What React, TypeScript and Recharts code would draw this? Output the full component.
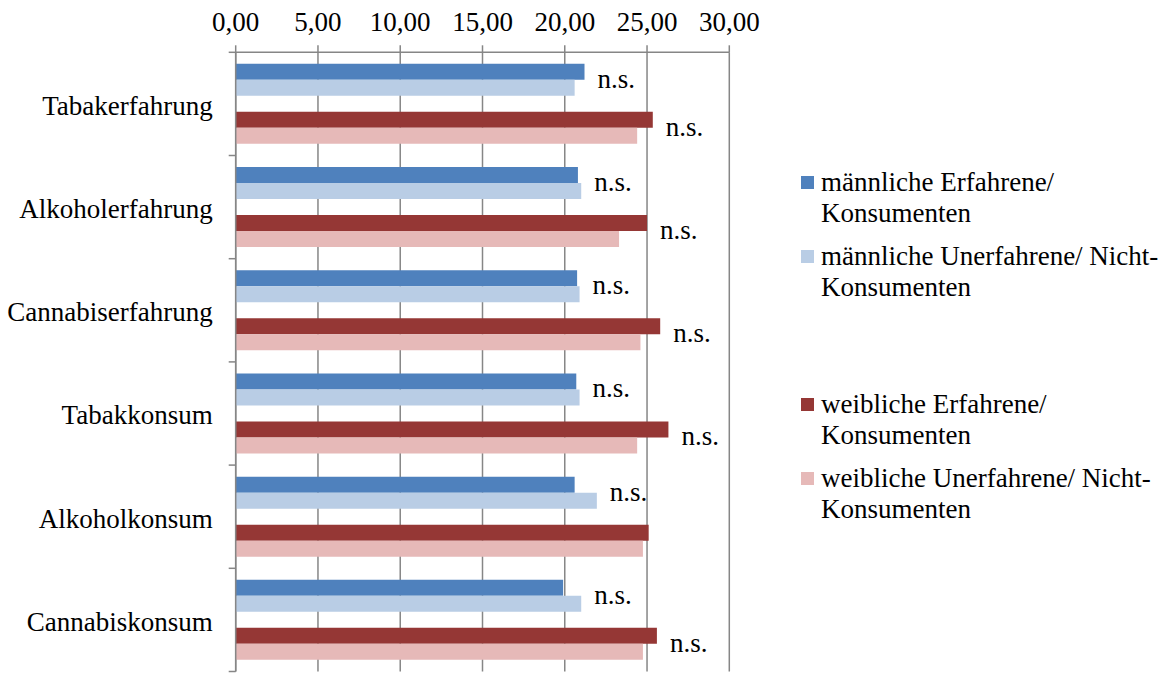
import React from "react";
import { BarChart, Bar, XAxis, YAxis, CartesianGrid, LabelList } from "recharts";

const categories = [
  "Tabakerfahrung",
  "Alkoholerfahrung",
  "Cannabiserfahrung",
  "Tabakkonsum",
  "Alkoholkonsum",
  "Cannabiskonsum",
];
const maleExperienced = [21.2, 20.8, 20.75, 20.7, 20.6, 19.9];
const maleNonExperienced = [20.6, 21.0, 20.9, 20.9, 21.95, 21.0];
const femaleExperienced = [25.35, 25.0, 25.8, 26.3, 25.1, 25.6];
const femaleNonExperienced = [24.4, 23.3, 24.6, 24.4, 24.75, 24.75];
const maleLabels = ["n.s.", "n.s.", "n.s.", "n.s.", "n.s.", "n.s."];
const femaleLabels = ["n.s.", "n.s.", "n.s.", "n.s.", "", "n.s."];
const xTicks = [0, 5, 10, 15, 20, 25, 30];

const seriesNames = [
  ["männliche Erfahrene/", "Konsumenten"],
  ["männliche Unerfahrene/ Nicht-", "Konsumenten"],
  [],
  ["weibliche Erfahrene/", "Konsumenten"],
  ["weibliche Unerfahrene/ Nicht-", "Konsumenten"],
];

const COLORS = ["#4F81BD", "#B9CDE5", "none", "#953735", "#E6B9B8"];
const GRID = "#868686";
const FONT = "Times New Roman, Liberation Serif, Tinos, DejaVu Serif, serif";
const FS = 27;

const rows = categories.map((c, i) => ({
  cat: c,
  mE: maleExperienced[i],
  mN: maleNonExperienced[i],
  fE: femaleExperienced[i],
  fN: femaleNonExperienced[i],
  mL: maleLabels[i],
  fL: femaleLabels[i],
}));

const TICK_SIZE = 7;
const TICK_MARGIN = 16;

function CatTick(props: any) {
  const { x, y, payload, index } = props;
  const off = payload && payload.offset ? payload.offset : 0;
  const ax = x + TICK_SIZE + TICK_MARGIN;
  const idx = typeof index === "number" ? index : payload?.index;
  return (
    <g>
      <line x1={ax - TICK_SIZE} x2={ax} y1={y - off} y2={y - off} stroke={GRID} strokeWidth={1.5} />
      {idx === categories.length - 1 && (
        <line x1={ax - TICK_SIZE} x2={ax} y1={y + off} y2={y + off} stroke={GRID} strokeWidth={1.5} />
      )}
      <text x={x} y={y} dy="0.4em" textAnchor="end" style={{ fontSize: FS, fontFamily: FONT }} fill="#000">
        {payload.value}
      </text>
    </g>
  );
}

const makeNs = (a: number[], b: number[]) => (p: any) => {
  const vb = p.viewBox || p;
  const { x, y, width } = vb;
  const i = p.index;
  const text = p.value;
  if (!text) return null;
  const v = b[i];
  const scale = width / v;
  const end = x + scale * Math.max(a[i], b[i]);
  return (
    <text x={end + 13} y={y + 8} style={{ fontSize: FS, fontFamily: FONT }} fill="#000">
      {text}
    </text>
  );
};

function LegendBox() {
  const startBaseline = 191;
  const step = 74;
  const lh = 30.5;
  return (
    <svg
      width={1162}
      height={673}
      style={{ position: "absolute", left: 0, top: 0, pointerEvents: "none" }}
    >
      {seriesNames.map((lines, i) => {
        if (!lines.length) return null;
        const b = startBaseline + i * step;
        return (
          <g key={i}>
            <rect x={801} y={b - 15} width={13} height={13} fill={COLORS[i]} />
            {lines.map((l, j) => (
              <text key={j} x={821} y={b + j * lh} style={{ fontSize: FS, fontFamily: FONT }} fill="#000">
                {l}
              </text>
            ))}
          </g>
        );
      })}
    </svg>
  );
}

export default function App() {
  return (
    <div
      style={{
        position: "absolute",
        left: 0,
        top: 0,
        width: 1162,
        height: 673,
        background: "#fff",
        fontFamily: FONT,
      }}
    >
      <BarChart
        width={1162}
        height={673}
        data={rows}
        layout="vertical"
        margin={{ top: 22.3, left: 35.7, right: 432.7, bottom: 1.5 }}
        barCategoryGap="11.2%"
        barGap={0}
        style={{ fontFamily: FONT }}
      >
        <CartesianGrid horizontal={false} vertical={true} stroke={GRID} strokeWidth={1.5} />
        <XAxis
          type="number"
          orientation="top"
          domain={[0, 30]}
          ticks={xTicks}
          allowDataOverflow
          height={30}
          tickSize={TICK_SIZE}
          tickMargin={14}
          tickFormatter={(v: number) => v.toFixed(2).replace(".", ",")}
          tick={{ fill: "#000", fontSize: FS, fontFamily: FONT }}
          axisLine={{ stroke: GRID, strokeWidth: 1.5 }}
          tickLine={{ stroke: GRID, strokeWidth: 1.5 }}
        />
        <YAxis
          type="category"
          dataKey="cat"
          width={200}
          tickSize={TICK_SIZE}
          tickMargin={TICK_MARGIN}
          tickLine={false}
          axisLine={{ stroke: GRID, strokeWidth: 1.5 }}
          tick={<CatTick />}
          interval={0}
        />
        <Bar dataKey="mE" fill={COLORS[0]} isAnimationActive={false} />
        <Bar dataKey="mN" fill={COLORS[1]} isAnimationActive={false}>
          <LabelList dataKey="mL" content={makeNs(maleExperienced, maleNonExperienced)} />
        </Bar>
        <Bar dataKey="blank" fill="none" isAnimationActive={false} legendType="none" />
        <Bar dataKey="fE" fill={COLORS[3]} isAnimationActive={false} />
        <Bar dataKey="fN" fill={COLORS[4]} isAnimationActive={false}>
          <LabelList dataKey="fL" content={makeNs(femaleExperienced, femaleNonExperienced)} />
        </Bar>
      </BarChart>
      <LegendBox />
    </div>
  );
}
